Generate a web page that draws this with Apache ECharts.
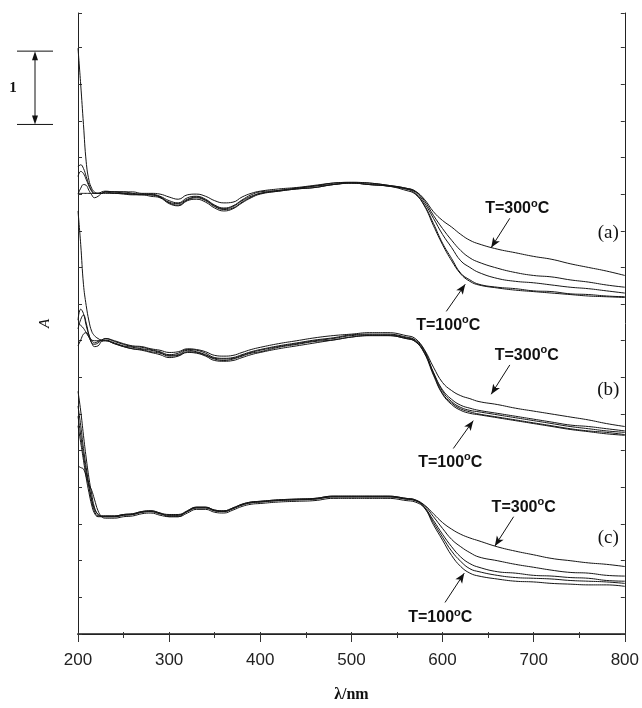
<!DOCTYPE html>
<html><head><meta charset="utf-8">
<script src="https://cdn.jsdelivr.net/npm/echarts@6/dist/echarts.min.js"></script>
<style>html,body{margin:0;padding:0;background:#fff}#c{width:642px;height:708px}</style>
</head><body><div id="c"></div>
<script>
// wavelength grid (nm)
const wavelengths = [200,203,206,209,212,215,218,222,226,230,240,250,260,270,280,290,300,310,320,330,340,350,360,370,380,390,400,420,440,460,480,500,520,540,560,570,580,590,600,610,620,630,640,660,680,700,720,740,760,780,800];
const xTickLabels = [200,300,400,500,600,700,800];

// group (a)
const a1 = [7.99,7.49,6.95,6.44,6.19,6.08,6.03,6.01,6.01,6.03,6.03,6.03,6.03,6.01,6.01,6.00,5.96,5.93,5.99,6.00,5.97,5.91,5.88,5.89,5.96,6.01,6.04,6.07,6.09,6.12,6.15,6.16,6.15,6.12,6.08,6.04,5.93,5.76,5.64,5.55,5.45,5.37,5.32,5.25,5.20,5.15,5.11,5.05,5.00,4.95,4.89];
const a2 = [6.37,6.40,6.35,6.24,6.13,6.05,6.01,6.01,6.03,6.04,6.03,6.03,6.01,6.00,6.00,5.97,5.91,5.88,5.95,5.97,5.93,5.85,5.81,5.84,5.92,5.99,6.03,6.05,6.08,6.11,6.15,6.16,6.15,6.12,6.08,6.04,5.91,5.71,5.53,5.37,5.23,5.13,5.07,4.99,4.93,4.89,4.87,4.83,4.80,4.76,4.73];
const a3 = [6.24,6.31,6.28,6.20,6.11,6.04,6.01,6.01,6.01,6.03,6.03,6.01,6.00,6.00,5.99,5.96,5.89,5.87,5.93,5.96,5.92,5.84,5.80,5.83,5.91,5.97,6.01,6.05,6.08,6.11,6.13,6.15,6.13,6.11,6.07,6.03,5.88,5.67,5.45,5.27,5.09,5.00,4.93,4.85,4.81,4.79,4.76,4.73,4.71,4.68,4.65];
const a4 = [6.00,6.08,6.13,6.12,6.05,5.99,5.95,5.97,6.01,6.03,6.01,6.01,6.00,5.99,5.99,5.96,5.88,5.85,5.92,5.95,5.91,5.83,5.79,5.81,5.89,5.96,6.01,6.04,6.07,6.09,6.13,6.15,6.13,6.11,6.07,6.01,5.85,5.60,5.33,5.12,4.92,4.83,4.77,4.73,4.71,4.68,4.67,4.64,4.63,4.61,4.60];
const a5 = [6.01,6.01,6.01,6.01,6.01,6.01,6.01,6.01,6.01,6.01,6.01,6.00,5.99,5.99,5.97,5.95,5.87,5.84,5.91,5.93,5.89,5.81,5.77,5.80,5.88,5.95,6.00,6.04,6.07,6.09,6.13,6.15,6.13,6.11,6.05,6.00,5.84,5.57,5.31,5.09,4.91,4.81,4.76,4.72,4.69,4.67,4.65,4.63,4.61,4.60,4.59];

// group (b)
const b1 = [5.77,5.31,4.77,4.48,4.27,4.13,4.07,4.03,4.01,4.03,4.00,3.96,3.93,3.92,3.89,3.87,3.84,3.85,3.89,3.88,3.85,3.80,3.79,3.80,3.84,3.88,3.91,3.96,4.00,4.04,4.07,4.09,4.11,4.11,4.07,4.03,3.88,3.64,3.43,3.32,3.25,3.21,3.17,3.13,3.08,3.04,3.00,2.96,2.92,2.87,2.83];
const b2 = [4.28,4.43,4.37,4.21,4.08,4.00,3.97,3.99,4.01,4.03,3.99,3.95,3.92,3.91,3.88,3.85,3.81,3.83,3.88,3.87,3.83,3.77,3.76,3.77,3.81,3.85,3.88,3.93,3.97,4.01,4.04,4.08,4.09,4.09,4.05,4.01,3.87,3.57,3.33,3.20,3.12,3.08,3.05,3.01,2.97,2.93,2.89,2.85,2.83,2.80,2.77];
const b3 = [4.24,4.21,4.17,4.11,4.05,4.01,4.00,4.00,4.00,4.01,3.97,3.93,3.91,3.89,3.87,3.84,3.80,3.81,3.87,3.85,3.81,3.76,3.75,3.76,3.80,3.84,3.87,3.92,3.96,4.00,4.03,4.07,4.08,4.08,4.04,4.00,3.85,3.56,3.31,3.17,3.09,3.05,3.03,2.99,2.95,2.91,2.87,2.83,2.80,2.77,2.75];
const b4 = [4.16,4.29,4.35,4.24,4.08,3.97,3.95,3.97,4.00,4.00,3.96,3.92,3.89,3.88,3.85,3.83,3.79,3.80,3.85,3.84,3.80,3.75,3.73,3.75,3.79,3.83,3.85,3.91,3.95,3.99,4.01,4.05,4.07,4.07,4.03,3.99,3.84,3.55,3.28,3.15,3.07,3.03,3.00,2.96,2.92,2.88,2.84,2.80,2.77,2.75,2.72];
const b5 = [3.93,4.01,4.09,4.11,4.05,3.97,3.92,3.93,3.99,4.00,3.96,3.92,3.89,3.87,3.84,3.81,3.77,3.79,3.84,3.83,3.79,3.73,3.72,3.73,3.77,3.81,3.84,3.89,3.93,3.97,4.01,4.05,4.07,4.07,4.03,3.99,3.83,3.53,3.27,3.13,3.05,3.01,2.99,2.95,2.91,2.87,2.83,2.79,2.76,2.73,2.71];

// group (c)
const c1 = [3.31,3.04,2.71,2.40,2.13,1.91,1.73,1.63,1.61,1.61,1.61,1.63,1.64,1.67,1.68,1.65,1.60,1.60,1.68,1.73,1.73,1.69,1.68,1.72,1.77,1.80,1.81,1.83,1.84,1.85,1.88,1.88,1.88,1.88,1.85,1.83,1.76,1.64,1.52,1.43,1.36,1.31,1.27,1.19,1.13,1.08,1.03,1.00,0.97,0.95,0.92];
const c2 = [3.11,2.84,2.53,2.27,2.04,1.84,1.71,1.63,1.60,1.60,1.60,1.62,1.63,1.66,1.67,1.64,1.62,1.62,1.67,1.72,1.72,1.68,1.67,1.71,1.76,1.79,1.80,1.82,1.83,1.84,1.87,1.87,1.87,1.87,1.84,1.82,1.75,1.60,1.44,1.29,1.19,1.11,1.05,1.00,0.95,0.91,0.87,0.84,0.83,0.80,0.79];
const c3 = [2.97,2.71,2.44,2.21,2.00,1.81,1.68,1.61,1.61,1.61,1.61,1.63,1.64,1.67,1.68,1.65,1.63,1.63,1.68,1.73,1.73,1.69,1.68,1.72,1.77,1.80,1.81,1.83,1.84,1.85,1.88,1.88,1.88,1.88,1.85,1.83,1.73,1.55,1.36,1.19,1.05,0.96,0.91,0.85,0.83,0.80,0.79,0.77,0.76,0.73,0.72];
const c4 = [2.84,2.61,2.37,2.13,1.93,1.76,1.65,1.60,1.60,1.60,1.60,1.62,1.63,1.66,1.67,1.64,1.62,1.62,1.67,1.72,1.72,1.68,1.67,1.71,1.76,1.79,1.80,1.82,1.83,1.84,1.87,1.87,1.87,1.87,1.84,1.82,1.73,1.52,1.32,1.13,0.99,0.89,0.85,0.80,0.77,0.76,0.75,0.73,0.72,0.71,0.69];
const c5 = [2.29,2.27,2.25,2.15,2.04,1.96,1.84,1.68,1.60,1.58,1.58,1.60,1.61,1.64,1.65,1.62,1.60,1.60,1.65,1.70,1.70,1.66,1.65,1.69,1.74,1.77,1.78,1.80,1.81,1.82,1.85,1.85,1.85,1.85,1.82,1.80,1.72,1.49,1.28,1.07,0.92,0.83,0.79,0.75,0.72,0.71,0.69,0.68,0.67,0.67,0.65];

const curves = [a1,a2,a3,a4,a5,b1,b2,b3,b4,b5,c1,c2,c3,c4,c5];

// annotations (data coordinates)
const panelNames = ['(a)','(b)','(c)'];
const panelAt = [[781.9,5.47],[781.9,3.33],[781.9,1.31]];
const tempValues = ['300','100','300','100','300','100'];
const tempAt = [[681.9,5.80],[606.3,4.21],[692.4,3.80],[608.5,2.34],[689,1.73],[597.5,0.22]];
const arrowFrom = [[673.8,5.67],[604.1,4.40],[673.8,3.67],[611.8,2.53],[678,1.60],[602.7,0.43]];
const arrowTo   = [[653.4,5.27],[624.9,4.77],[653.4,3.27],[633.7,2.91],[657.4,1.20],[623.8,0.83]];
const scaleBarTop = 7.95, scaleBarLength = 1;
const yMax = 8.47;

const chart = echarts.init(document.getElementById('c'), null, {renderer:'canvas'});

const series = curves.map(arr => ({
  type:'line', xAxisIndex:0, yAxisIndex:0, symbol:'none', smooth:0.45,
  lineStyle:{color:'#151515', width:1}, silent:true, animation:false,
  data: wavelengths.map((w,i)=>[w, arr[i]])
}));

const markPts = [];
tempValues.forEach((t,i)=>markPts.push({coord:tempAt[i], symbol:'circle', symbolSize:1, itemStyle:{color:'rgba(0,0,0,0)'},
  label:{show:true, position:'inside', formatter:'{t|T='+t+'}{s|o}{t|C}',
    rich:{t:{fontFamily:'Liberation Sans, Arial, sans-serif', fontWeight:'bold', fontSize:16, color:'#111'},
          s:{fontFamily:'Liberation Sans, Arial, sans-serif', fontWeight:'bold', fontSize:11, color:'#111', padding:[0,0,10,0]}}}}));
panelNames.forEach((p,i)=>markPts.push({coord:panelAt[i], symbol:'circle', symbolSize:1, itemStyle:{color:'rgba(0,0,0,0)'},
  label:{show:true, position:'inside', formatter:p, fontFamily:'Liberation Serif, Times New Roman, serif', fontSize:19, color:'#111'}}));

series.push({
  type:'line', xAxisIndex:0, yAxisIndex:0, data:[], silent:true, animation:false,
  markPoint:{silent:true, animation:false, data:markPts},
  markLine:{silent:true, animation:false, symbol:['none','arrow'], symbolSize:[6,10],
    lineStyle:{color:'#111', width:1, type:'solid'}, label:{show:false},
    data: arrowFrom.map((f,i)=>[{coord:f},{coord:arrowTo[i]}])}
});

chart.setOption({
  animation:false,
  backgroundColor:'#fff',
  grid:{left:78, right:15, top:13, bottom:60, containLabel:false},
  xAxis:[
    {type:'value', min:200, max:800, interval:100, position:'bottom',
     axisLine:{show:true, lineStyle:{color:'#555', width:2}},
     axisTick:{show:true, inside:false, length:8, lineStyle:{color:'#333', width:1}},
     minorTick:{show:true, splitNumber:2, length:4, lineStyle:{color:'#333', width:1}},
     splitLine:{show:false},
     axisLabel:{show:true, margin:18, fontSize:17, color:'#222', fontFamily:'Liberation Sans, Arial, sans-serif',
       formatter:v=> xTickLabels.includes(v) ? String(v) : ''},
     name:'λ/nm', nameLocation:'middle', nameGap:53,
     nameTextStyle:{fontFamily:'Liberation Serif, Times New Roman, serif', fontWeight:'bold', fontSize:16, color:'#111'}},
    {type:'value', min:200, max:800, interval:50, position:'top',
     axisLine:{show:true, lineStyle:{color:'#222', width:1}},
     axisTick:{show:true, inside:false, length:2, lineStyle:{color:'#333'}},
     axisLabel:{show:false}, splitLine:{show:false}}
  ],
  yAxis:[
    {type:'value', min:0, max:yMax, interval:0.5, position:'left',
     axisLine:{show:true, lineStyle:{color:'#222', width:1}},
     axisTick:{show:true, inside:true, length:4, lineStyle:{color:'#333'}},
     axisLabel:{show:false}, splitLine:{show:false},
     name:'A', nameLocation:'middle', nameGap:25,
     nameTextStyle:{fontFamily:'Liberation Serif, Times New Roman, serif', fontStyle:'italic', fontSize:15, color:'#111'}},
    {type:'value', min:0, max:yMax, interval:0.5, position:'right',
     axisLine:{show:true, lineStyle:{color:'#222', width:1}},
     axisTick:{show:true, inside:true, length:4, lineStyle:{color:'#333'}},
     axisLabel:{show:false}, splitLine:{show:false}}
  ],
  series: series
});

// scale bar representing 1 absorbance unit, placed from the axis scale
const yTop = chart.convertToPixel({xAxisIndex:0, yAxisIndex:0}, [200, scaleBarTop])[1];
const yBot = chart.convertToPixel({xAxisIndex:0, yAxisIndex:0}, [200, scaleBarTop - scaleBarLength])[1];
const bx = 35, bl = 17, br = 53;
chart.setOption({
  graphic:[
    {type:'line', shape:{x1:bl, y1:yTop, x2:br, y2:yTop}, style:{stroke:'#111', lineWidth:1}},
    {type:'line', shape:{x1:bl, y1:yBot, x2:br, y2:yBot}, style:{stroke:'#111', lineWidth:1}},
    {type:'line', shape:{x1:bx, y1:yTop+6, x2:bx, y2:yBot-6}, style:{stroke:'#111', lineWidth:1}},
    {type:'polygon', shape:{points:[[bx,yTop],[bx-3,yTop+9],[bx+3,yTop+9]]}, style:{fill:'#111'}},
    {type:'polygon', shape:{points:[[bx,yBot],[bx-3,yBot-9],[bx+3,yBot-9]]}, style:{fill:'#111'}},
    {type:'text', x:13, y:(yTop+yBot)/2, style:{text:'1', fill:'#111', fontFamily:'Liberation Serif, Times New Roman, serif', fontWeight:'bold', fontSize:15, align:'center', verticalAlign:'middle'}}
  ]
});
</script></body></html>
